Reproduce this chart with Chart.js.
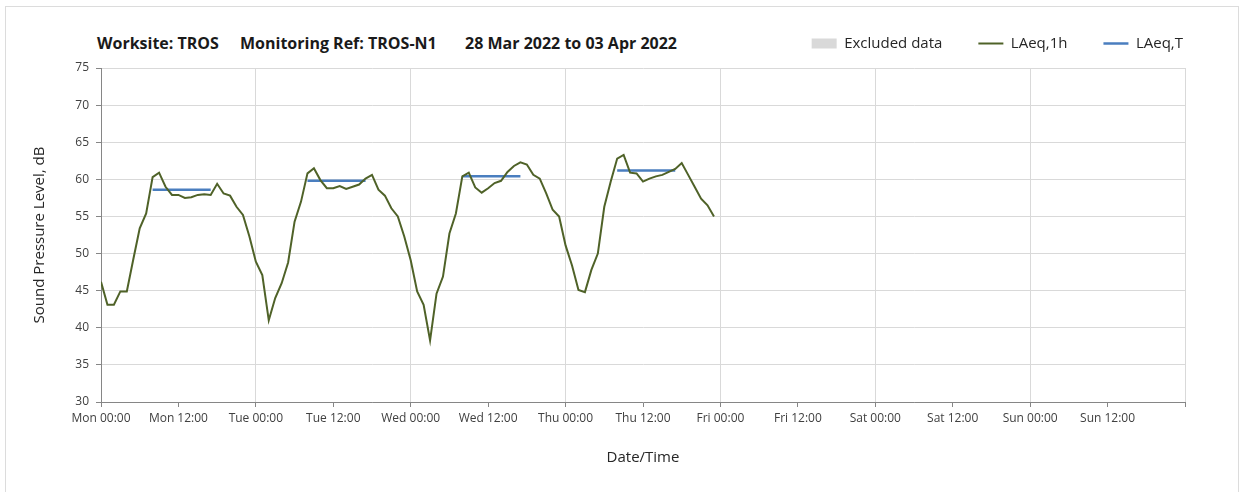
<!DOCTYPE html>
<html>
<head>
<meta charset="utf-8">
<script src="https://cdn.jsdelivr.net/npm/chart.js@4.4.1/dist/chart.umd.min.js"></script>
<style>
  html, body { margin: 0; padding: 0; background: #fff; }
  #wrap { position: relative; width: 1242px; height: 492px; overflow: hidden; font-family: 'Open Sans', sans-serif; }
  #frame { position: absolute; left: 5px; top: 6px; width: 1232px; height: 520px; border: 1px solid #dcdcdc; }
  #ordersChart { position: absolute; left: 0; top: 0; }
  .ttl { position: absolute; top: 32px; font-weight: bold; font-size: 16px; line-height: 22px; color: #1a1a1a; white-space: nowrap; }
</style>
</head>
<body>
<div id="wrap">
  <div id="frame"></div>
  <span class="ttl" style="left:97px">Worksite: TROS</span>
  <span class="ttl" style="left:240px">Monitoring Ref: TROS-N1</span>
  <span class="ttl" style="left:465px">28 Mar 2022 to 03 Apr 2022</span>
  <canvas id="ordersChart" width="1242" height="492"></canvas>
</div>
<script>
// tick labels every 12 h, Mon 00:00 .. Sun 12:00
const tickLabels = ['Mon 00:00', 'Mon 12:00', 'Tue 00:00', 'Tue 12:00', 'Wed 00:00', 'Wed 12:00',
  'Thu 00:00', 'Thu 12:00', 'Fri 00:00', 'Fri 12:00', 'Sat 00:00', 'Sat 12:00', 'Sun 00:00', 'Sun 12:00'];

// hourly LAeq,1h from Mon 00:00 (hour 0) to Thu 23:00 (hour 95)
const laeq1h = [
  46.2, 43.1, 43.1, 44.9, 44.9, 49.2, 53.4, 55.4, 60.3, 60.9, 59.0, 57.9,
  57.9, 57.5, 57.6, 57.9, 58.0, 57.9, 59.4, 58.1, 57.8, 56.3, 55.2, 52.3,
  48.9, 47.1, 41.0, 44.0, 46.0, 48.8, 54.3, 57.0, 60.8, 61.5, 59.9, 58.8,
  58.8, 59.1, 58.7, 59.0, 59.3, 60.1, 60.6, 58.6, 57.8, 56.1, 55.0, 52.3,
  49.1, 44.9, 43.1, 38.3, 44.6, 46.9, 52.7, 55.4, 60.4, 60.9, 58.9, 58.2,
  58.8, 59.5, 59.8, 61.0, 61.8, 62.3, 62.0, 60.6, 60.1, 58.1, 55.9, 55.0,
  51.1, 48.4, 45.1, 44.8, 47.8, 50.0, 56.3, 59.7, 62.8, 63.3, 60.9, 60.8,
  59.7, 60.1, 60.4, 60.6, 61.0, 61.4, 62.2, 60.6, 59.0, 57.4, 56.5, 55.0
];

// LAeq,T periods (hours from Mon 00:00)
const periodStart = [8, 32, 56, 80];
const periodEnd = [17, 41, 65, 89];
const periodLevel = [58.6, 59.8, 60.4, 61.2];

const hourlyPoints = laeq1h.map((v, i) => ({ x: i, y: v }));
const periodPoints = [];
periodStart.forEach((s, i) => {
  periodPoints.push({ x: s, y: periodLevel[i] });
  periodPoints.push({ x: periodEnd[i], y: periodLevel[i] });
  periodPoints.push({ x: periodEnd[i] + 1, y: null });
});

const legendLook = ['rect', 'line', 'line'];
const txt = '#404040';

const ctx = document.getElementById('ordersChart').getContext('2d');
const myChart = new Chart(ctx, {
  type: 'line',
  data: {
    datasets: [
      {
        label: 'Excluded data',
        data: [],
        backgroundColor: '#d9d9d9',
        borderColor: '#d9d9d9',
        borderWidth: 0
      },
      {
        label: 'LAeq,1h',
        data: hourlyPoints,
        borderColor: '#4f6228',
        backgroundColor: '#4f6228',
        borderWidth: 2,
        pointRadius: 0,
        tension: 0,
        fill: false
      },
      {
        label: 'LAeq,T',
        data: periodPoints,
        borderColor: '#4a7ebf',
        backgroundColor: '#4a7ebf',
        borderWidth: 2.5,
        pointRadius: 0,
        spanGaps: false,
        fill: false
      }
    ]
  },
  options: {
    responsive: false,
    devicePixelRatio: 1,
    animation: false,
    layout: { padding: { left: 0, right: 23, top: 0, bottom: 0 } },
    plugins: {
      tooltip: { enabled: false },
      legend: {
        position: 'top',
        align: 'end',
        labels: {
          usePointStyle: true,
          pointStyleWidth: 25,
          boxHeight: 10,
          padding: 36,
          color: '#262626',
          font: { family: 'Open Sans', size: 15 },
          generateLabels: chart => Chart.defaults.plugins.legend.labels.generateLabels(chart).map(item => {
            item.pointStyle = legendLook[item.datasetIndex];
            if (item.pointStyle === 'rect') {
              item.fillStyle = '#d9d9d9';
              item.lineWidth = 0;
            }
            return item;
          })
        }
      }
    },
    scales: {
      x: {
        type: 'linear',
        min: 0,
        max: 168,
        offset: false,
        afterFit: s => { s.height = 90; },
        ticks: {
          stepSize: 12,
          autoSkip: false,
          maxRotation: 0,
          padding: 4,
          color: txt,
          font: { family: 'Open Sans', size: 12 },
          callback: v => tickLabels[v / 12] || ''
        },
        grid: {
          offset: false,
          color: c => (c.tick && c.tick.value % 24 === 0) ? '#d9d9d9' : 'rgba(0,0,0,0)',
          tickColor: '#868686',
          tickLength: 5,
          lineWidth: 1
        },
        border: { color: '#868686' },
        title: {
          display: true,
          text: 'Date/Time',
          color: '#262626',
          font: { family: 'Open Sans', size: 15 },
          padding: { top: 0, bottom: 25 }
        }
      },
      // empty spacer between legend and plot
      xt: {
        type: 'linear',
        axis: 'x',
        position: 'top',
        display: true,
        afterFit: s => { s.height = 7; },
        ticks: { display: false },
        grid: { display: false },
        border: { display: false }
      },
      y: {
        min: 30,
        max: 75,
        beginAtZero: false,
        afterFit: s => { s.width = 101; },
        ticks: {
          stepSize: 5,
          padding: 7,
          color: txt,
          font: { family: 'Open Sans', size: 12 }
        },
        grid: {
          color: '#d9d9d9',
          tickColor: '#868686',
          tickLength: 5
        },
        border: { color: '#868686' },
        title: {
          display: true,
          text: 'Sound Pressure Level, dB',
          color: '#262626',
          font: { family: 'Open Sans', size: 15 },
          padding: { top: 31, bottom: 0 }
        }
      },
      yr: {
        position: 'right',
        display: true,
        afterFit: s => { s.width = 34; },
        ticks: { display: false },
        grid: { display: false },
        border: { display: false }
      }
    }
  }
});
</script>
</body>
</html>
